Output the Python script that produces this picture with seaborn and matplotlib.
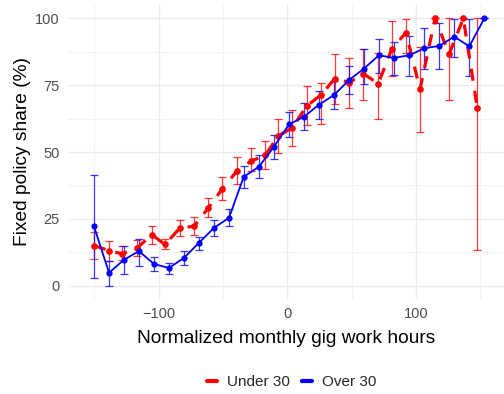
import numpy as np
import pandas as pd
import matplotlib
matplotlib.use("Agg")
import matplotlib.pyplot as plt
from matplotlib.lines import Line2D
import seaborn as sns

# Binned normalized gig hours and fixed-policy share (%) with 95% intervals
under_x = [-150.3, -138.6, -128.3, -116.6, -105.4, -95.1, -83.4, -72.5, -61.4, -50.5,
           -39.3, -28.2, -17.3, -7.0, 3.9, 15.1, 26.0, 37.1, 48.2, 59.1,
           70.8, 81.2, 92.3, 103.2, 114.9, 125.8, 136.9, 147.7]
under_y = [15.0, 13.1, 11.9, 14.1, 19.1, 15.4, 21.6, 22.2, 29.1, 36.2,
           42.8, 46.6, 48.7, 56.0, 59.1, 67.2, 71.3, 77.5, 76.0, 79.3,
           75.6, 88.5, 94.7, 73.5, 100.0, 86.6, 100.0, 66.6]
under_lo = [10.0, 9.4, 9.7, 11.0, 15.7, 13.8, 18.5, 19.1, 25.7, 32.2,
            37.9, 42.8, 43.5, 49.7, 52.2, 60.0, 60.6, 68.1, 66.6, 69.3,
            62.5, 78.4, 87.2, 57.5, 100.0, 69.5, 100.0, 13.2]
under_hi = [20.1, 16.6, 15.0, 17.2, 22.2, 17.6, 24.7, 25.6, 32.7, 40.7,
            48.2, 51.6, 54.1, 62.2, 65.7, 74.7, 76.0, 86.6, 85.0, 88.7,
            87.0, 99.1, 99.7, 89.1, 100.0, 100.0, 100.0, 100.0]

over_x = [-150.3, -138.6, -127.0, -115.3, -103.7, -92.0, -80.3, -68.7, -57.0, -45.3,
          -33.9, -22.0, -10.3, 1.3, 13.0, 24.6, 36.3, 48.2, 59.6, 71.3,
          82.9, 94.9, 106.5, 118.2, 129.8, 141.5, 153.2]
over_y = [22.2, 4.8, 9.7, 12.9, 8.1, 6.6, 10.4, 16.0, 21.6, 25.4,
          40.7, 44.5, 52.0, 60.3, 63.2, 67.7, 71.3, 77.0, 81.2, 86.2,
          85.2, 86.2, 88.8, 89.7, 93.2, 89.5, 100.0]
over_lo = [2.9, 0.0, 4.4, 7.2, 5.4, 4.4, 7.9, 13.5, 18.5, 22.2,
           36.6, 40.1, 47.2, 55.7, 58.1, 62.5, 66.0, 71.6, 75.3, 79.7,
           78.7, 78.4, 81.0, 81.2, 85.7, 78.4, 100.0]
over_hi = [41.3, 9.4, 15.0, 17.6, 10.9, 8.5, 12.9, 18.2, 24.7, 28.5,
           44.7, 48.7, 56.2, 65.0, 68.2, 72.8, 76.6, 82.2, 88.5, 92.2,
           91.3, 93.4, 96.3, 98.1, 99.7, 99.7, 100.0]

groups = ["Under 30", "Over 30"]
colors = {"Under 30": "#FF0000", "Over 30": "#0000FF"}

df = pd.concat([
    pd.DataFrame({"hours": under_x, "share": under_y, "lo": under_lo, "hi": under_hi, "group": "Under 30"}),
    pd.DataFrame({"hours": over_x, "share": over_y, "lo": over_lo, "hi": over_hi, "group": "Over 30"}),
], ignore_index=True)

sns.set_theme(style="whitegrid")
plt.rcParams["font.family"] = ["Liberation Sans", "DejaVu Sans"]

fig = plt.figure(figsize=(5.04, 3.94), dpi=100)
ax = fig.add_axes([68 / 504, 1 - 299 / 394, 1 - 68 / 504, (299 - 5) / 394])

line_styles = {
    "Under 30": dict(lw=2.3, ls=(0, (3.8, 3.2)), ms=4.8),
    "Over 30": dict(lw=1.3, ls="-", ms=4.5),
}

for g in groups:
    d = df[df["group"] == g]
    ax.errorbar(d["hours"], d["share"],
                yerr=[d["share"] - d["lo"], d["hi"] - d["share"]],
                fmt="none", ecolor=colors[g], elinewidth=0.9, capsize=3.0,
                capthick=0.9, alpha=0.78, zorder=2)

for g in groups:
    d = df[df["group"] == g]
    st = line_styles[g]
    sns.lineplot(data=d, x="hours", y="share", ax=ax, color=colors[g],
                 linewidth=st["lw"], linestyle=st["ls"], marker="o",
                 markersize=st["ms"], markeredgewidth=0, errorbar=None,
                 legend=False, zorder=3)

ax.set_xlim(-170.5, 168.5)
ax.set_ylim(-5, 105)
ax.set_xticks([-100, 0, 100])
ax.set_xticklabels(["\u2212100", "0", "100"])
ax.set_yticks([0, 25, 50, 75, 100])
ax.set_xticks([-150, -50, 50, 150], minor=True)
ax.set_yticks([12.5, 37.5, 62.5, 87.5], minor=True)
ax.grid(which="major", color="#EBEBEB", linewidth=1.0)
ax.grid(which="minor", color="#F2F2F2", linewidth=0.7)
ax.set_facecolor("white")
for s in ax.spines.values():
    s.set_visible(False)
ax.tick_params(axis="both", which="both", length=0, labelsize=10.5, labelcolor="#4D4D4D")
ax.tick_params(axis="x", pad=6)
ax.tick_params(axis="y", pad=6)

ax.set_xlabel("Normalized monthly gig work hours", fontsize=13.8, color="black", labelpad=6)
ax.set_ylabel("Fixed policy share (%)", fontsize=13.8, color="black", labelpad=3)

handles = [Line2D([0], [0], color=colors[g], lw=3) for g in groups]
fig.legend(handles, groups, loc="center", bbox_to_anchor=(292 / 504, 1 - 382 / 394),
           ncol=2, frameon=False, fontsize=11, handlelength=0.6, handletextpad=0.7,
           columnspacing=0.8)

fig.savefig("out.png", dpi=100)
